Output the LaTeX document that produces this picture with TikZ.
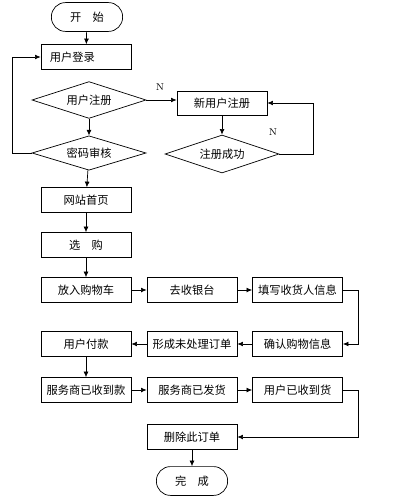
\documentclass[tikz,border=0pt]{standalone}
\usepackage{fontspec}
\newfontfamily\cjk{Noto Sans CJK SC}
\usetikzlibrary{shapes,shapes.geometric}
\usetikzlibrary{arrows,arrows.meta}

\begin{document}
\begin{tikzpicture}[x=0.025cm,y=-0.025cm,
    font=\cjk\fontsize{8}{10}\selectfont,
    every path/.style={line width=0.5pt},
    box/.style={draw,rectangle,inner sep=0pt,minimum width=2.25cm,minimum height=0.62cm},
    cond/.style={draw,diamond,aspect=3,inner sep=0pt,minimum width=2.85cm,minimum height=0.92cm},
    term/.style={draw,rectangle,rounded corners=0.35cm,inner sep=0pt,minimum width=1.78cm,minimum height=0.72cm},
    arr/.style={-{Latex[length=4pt,width=3.5pt]}},
    lbl/.style={font=\rmfamily\fontsize{7}{8}\selectfont}]

  \useasboundingbox (0,0) rectangle (405,500);

  \pgfmathsetmacro\colA{86}     % left column
  \pgfmathsetmacro\colB{192}    % middle column
  \pgfmathsetmacro\colC{297.5}  % right column

% login part
  \node[term] (start) at (87,17) {开\quad 始};
  \node[box,text width=1.8cm,inner xsep=0.225cm,align=left] (login) at (\colA,57) {用户登录};
  \node[cond] (reg) at (89,100) {用户注册};
  \node[cond,minimum height=0.86cm] (check) at (89,153) {密码审核};
  \node[box,minimum height=0.6cm] (newreg) at (222,103) {新用户注册};
  \node[cond,minimum height=0.95cm] (succ) at (222,154) {注册成功};
  \node[lbl] (n1) at (160,87) {N};
  \node[lbl] (n2) at (273,132) {N};

% shopping part
  \node[box] (home)    at (\colA,200) {网站首页};
  \node[box] (choose)  at (\colA,245) {选\quad 购};
  \node[box] (cart)    at (\colA,290) {放入购物车};
  \node[box] (cashier) at (\colB,290) {去收银台};
  \node[box] (fill)    at (\colC,290) {填写收货人信息};
  \node[box] (pay)     at (\colA,344) {用户付款};
  \node[box] (order)   at (\colB,344) {形成未处理订单};
  \node[box] (confirm) at (\colC,344) {确认购物信息};
  \node[box] (paid)    at (\colA,390) {服务商已收到款};
  \node[box] (ship)    at (\colB,390) {服务商已发货};
  \node[box] (got)     at (\colC,390) {用户已收到货};
  \node[box] (del)     at (\colB,437) {删除此订单};
  \node[term] (done)   at (\colB,481) {完\quad 成};

  \coordinate (lx) at (12,0);
  \coordinate (rx1) at (313,0);
  \coordinate (rx2) at (358,0);

% connectors
  \draw[arr] (start) -- (login);
  \draw[arr] (reg) -- (check);
  \draw[arr] (check) -- (home);
  \draw[arr] (check.west) -- (check.west -| lx) |- (login.west);
  \draw[arr] (reg.east) -- (reg.east -| newreg.west);
  \draw[arr] (newreg) -- (succ);
  \draw[arr] (succ.east) -- (succ.east -| rx1) |- (newreg.east);
  \draw[arr] (home) -- (choose);
  \draw[arr] (choose) -- (cart);
  \draw[arr] (cart) -- (cashier);
  \draw[arr] (cashier) -- (fill);
  \draw[arr] (fill.east) -- (fill.east -| rx2) |- (confirm.east);
  \draw[arr] (confirm) -- (order);
  \draw[arr] (order) -- (pay);
  \draw[arr] (pay) -- (paid);
  \draw[arr] (paid) -- (ship);
  \draw[arr] (ship) -- (got);
  \draw[arr] (got.east) -- (got.east -| rx2) |- (del.east);
  \draw[arr] (del) -- (done);

\end{tikzpicture}
\end{document}
